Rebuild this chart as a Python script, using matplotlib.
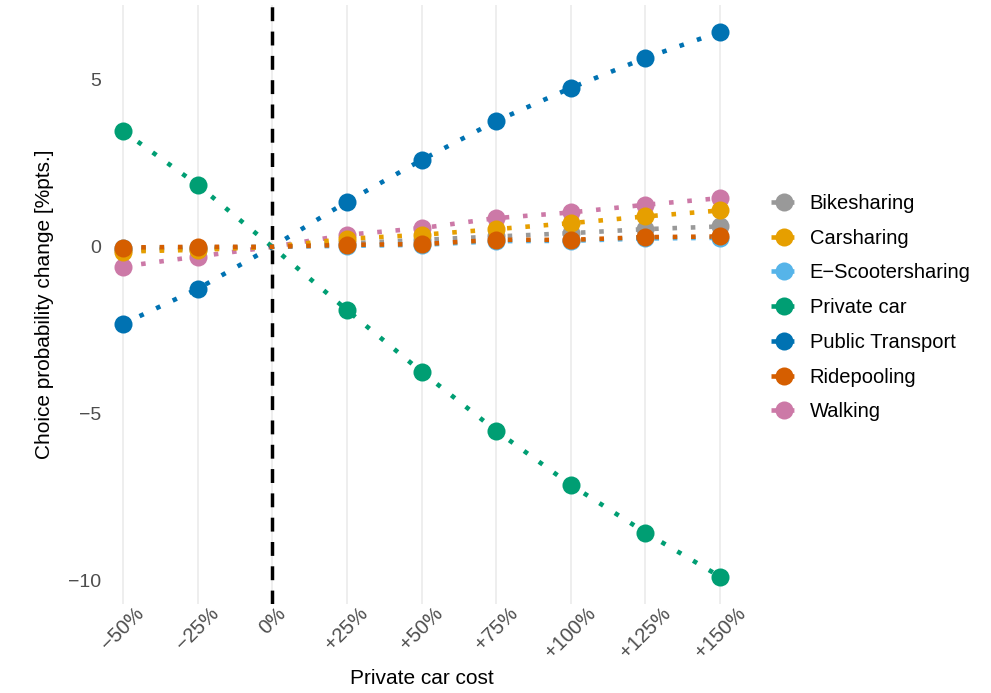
import matplotlib
matplotlib.use("Agg")
import matplotlib.pyplot as plt
from matplotlib.lines import Line2D

plt.rcParams['font.family'] = ['Liberation Sans', 'DejaVu Sans']

categories = ["\u221250%", "\u221225%", "0%", "+25%", "+50%", "+75%", "+100%", "+125%", "+150%"]

bikesharing   = [-0.10, -0.05, 0.0, 0.10, 0.21, 0.31, 0.41, 0.53, 0.61]
carsharing    = [-0.14, -0.09, 0.0, 0.24, 0.36, 0.53, 0.71, 0.91, 1.09]
escooter      = [-0.04, -0.02, 0.0, 0.03, 0.06, 0.17, 0.18, 0.25, 0.27]
private_car   = [3.47, 1.86, 0.0, -1.89, -3.74, -5.51, -7.13, -8.56, -9.88]
public_trans  = [-2.31, -1.26, 0.0, 1.35, 2.60, 3.77, 4.76, 5.66, 6.44]
ridepooling   = [-0.02, 0.00, 0.0, 0.06, 0.08, 0.21, 0.21, 0.29, 0.31]
walking       = [-0.59, -0.29, 0.0, 0.36, 0.56, 0.86, 1.03, 1.26, 1.46]

series_names = ["Bikesharing", "Carsharing", "E\u2212Scootersharing", "Private car",
                "Public Transport", "Ridepooling", "Walking"]
series_vals = [bikesharing, carsharing, escooter, private_car, public_trans, ridepooling, walking]
colors = ["#999999", "#E69F00", "#56B4E9", "#009E73", "#0072B2", "#D55E00", "#CC79A7"]
zorders = [3, 4, 3.5, 5, 6, 7, 2]

W, H = 991, 693
fig = plt.figure(figsize=(W / 100, H / 100), dpi=100)
left_px, right_px, top_px, bottom_px = 108, 735, 4.5, 604
ax = fig.add_axes([left_px / W, 1 - bottom_px / H, (right_px - left_px) / W, (bottom_px - top_px) / H])

x = list(range(len(categories)))
zero_idx = categories.index("0%")

for name, vals, col, zo in zip(series_names, series_vals, colors, zorders):
    ax.plot(x, vals, color=col, lw=3.3, linestyle=(0, (1, 3)), dash_capstyle='butt',
            zorder=zo)
    px = [xi for xi in x if xi != zero_idx]
    py = [vals[xi] for xi in px]
    ax.plot(px, py, 'o', color=col, markersize=13, markeredgewidth=0, zorder=zo + 10)

ax.axvline(zero_idx, color='black', lw=2.5, linestyle=(0, (4, 3)), zorder=1.5)

ax.set_xlim(-0.2, len(categories) - 1 + 0.2)
ax.set_ylim(-10.7, 7.26)
ax.set_xticks(x)
ax.set_xticklabels(categories, rotation=45, ha='center', va='top', fontsize=14.5, color='#4d4d4d')
ax.set_yticks([-10, -5, 0, 5])
ax.set_yticklabels(["\u221210", "\u22125", "0", "5"], fontsize=14, color='#4d4d4d')
ax.tick_params(axis='x', length=0, pad=0)
ax.tick_params(axis='y', length=0, pad=5)
ax.grid(axis='x', color='#ebebeb', lw=1.2)
ax.set_axisbelow(True)
for s in ax.spines.values():
    s.set_visible(False)

ax.set_xlabel("Private car cost", fontsize=15, labelpad=5)
ax.set_ylabel("Choice probability change [%pts.]", fontsize=15, labelpad=10)

handles = [Line2D([0], [0], color=c, lw=3.3, linestyle=(0, (1, 1)), marker='o', markersize=13,
                  markeredgewidth=0) for c in colors]
fig.legend(handles, series_names, loc='center left', bbox_to_anchor=(0.76, 0.556),
           frameon=False, fontsize=14.5, handlelength=1.3, handletextpad=0.6, labelspacing=0.78)

fig.savefig("out.png", dpi=100)
